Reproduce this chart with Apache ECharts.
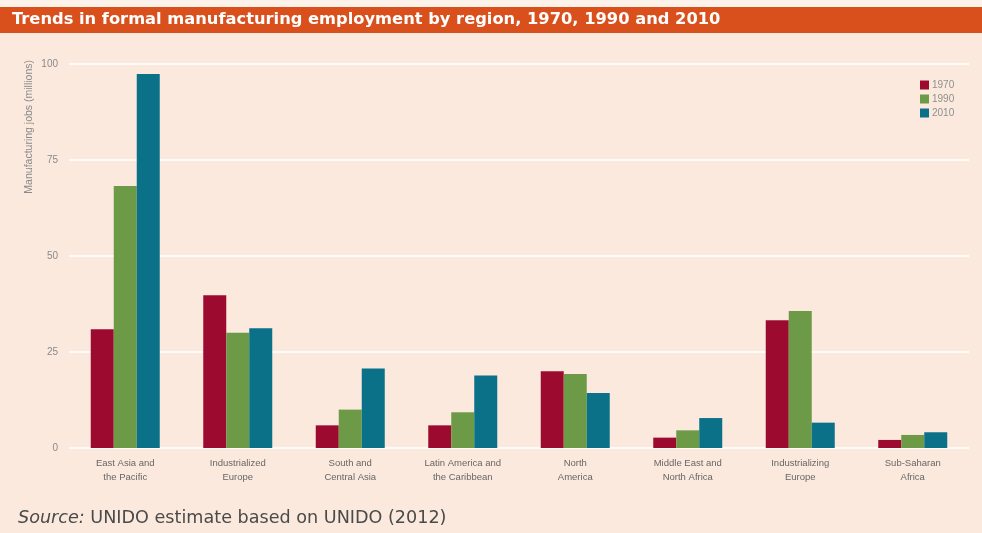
<!DOCTYPE html>
<html>
<head>
<meta charset="utf-8">
<script src="https://cdn.jsdelivr.net/npm/echarts@6/dist/echarts.min.js"></script>
<style>
html,body{margin:0;padding:0;background:#fbe9dd;}
#c{width:982px;height:533px;}
</style>
</head>
<body>
<div id="c"></div>
<script>
const categories = [
  'East Asia and\nthe Pacific',
  'Industrialized\nEurope',
  'South and\nCentral Asia',
  'Latin America and\nthe Caribbean',
  'North\nAmerica',
  'Middle East and\nNorth Africa',
  'Industrializing\nEurope',
  'Sub-Saharan\nAfrica'
];
const seriesNames = ['1970', '1990', '2010'];
const values1970 = [30.9, 39.8, 5.9, 5.9, 20.0, 2.7, 33.3, 2.1];
const values1990 = [68.2, 30.0, 10.0, 9.3, 19.3, 4.6, 35.7, 3.4];
const values2010 = [97.4, 31.2, 20.7, 18.9, 14.3, 7.8, 6.6, 4.1];
const yTicks = [0, 25, 50, 75, 100];
const titleText = 'Trends in formal manufacturing employment by region, 1970, 1990 and 2010';
const yAxisName = 'Manufacturing jobs (millions)';

const colors = ['#9c0b2f', '#6d9a47', '#0b7189'];
const chart = echarts.init(document.getElementById('c'));
const allValues = [values1970, values1990, values2010];

chart.setOption({
  backgroundColor: '#fbe9dd',
  animation: false,
  color: colors,
  grid: { left: 69, right: 13, top: 64, bottom: 85 },
  legend: {
    orient: 'vertical',
    left: 915, top: 75,
    itemWidth: 9, itemHeight: 9, itemGap: 4,
    icon: 'rect',
    textStyle: { fontSize: 10, color: '#8f8f8f', fontFamily: 'Liberation Sans Narrow, Liberation Sans, Arial', padding: [0,0,0,-2] },
    data: seriesNames
  },
  xAxis: {
    type: 'category',
    data: categories,
    axisLine: { show: false },
    axisTick: { show: false },
    axisLabel: { fontSize: 9.5, color: '#666666', lineHeight: 14, margin: 8, interval: 0,
      fontFamily: 'Liberation Sans Narrow, Liberation Sans, Arial' }
  },
  yAxis: {
    type: 'value',
    min: yTicks[0], max: yTicks[yTicks.length - 1], interval: 25,
    axisLine: { show: false },
    axisTick: { show: false },
    axisLabel: { fontSize: 10, color: '#8a8a8a', margin: 11, fontFamily: 'Liberation Sans Narrow, Liberation Sans, Arial' },
    splitLine: { lineStyle: { color: '#ffffff', width: 2, opacity: 0.8 } }
  },
  series: seriesNames.map((n, i) => ({
    name: n,
    type: 'bar',
    data: allValues[i],
    barWidth: 23,
    barGap: '0%',
    itemStyle: { color: colors[i] }
  })),
  graphic: [
    { type: 'rect', left: 0, top: 0, shape: { width: 982, height: 7 }, style: { fill: '#fdf2ea' }, z: 0 },
    { type: 'rect', left: 0, top: 7, shape: { width: 982, height: 26 }, style: { fill: '#d9501d' }, z: 1 },
    { type: 'text', left: 12, top: 12,
      style: { text: titleText, fill: '#ffffff', font: 'bold 16.3px "DejaVu Sans", Arial' }, z: 2 },
    { type: 'text', x: 29, y: 60, rotation: Math.PI / 2,
      style: { text: yAxisName, fill: '#8a8a8a', font: '10.5px "Liberation Sans Narrow", "Liberation Sans", Arial', align: 'right', verticalAlign: 'middle' }, z: 2 },
    { type: 'text', left: 18, top: 509,
      style: {
        text: '{i|Source:} UNIDO estimate based on UNIDO (2012)',
        rich: { i: { fontStyle: 'italic', fontSize: 17.6, fill: '#4a4a4a', fontFamily: 'DejaVu Sans, Arial' } },
        fill: '#4a4a4a', font: '17.6px "DejaVu Sans", Arial'
      }, z: 2 }
  ]
});
</script>
</body>
</html>
